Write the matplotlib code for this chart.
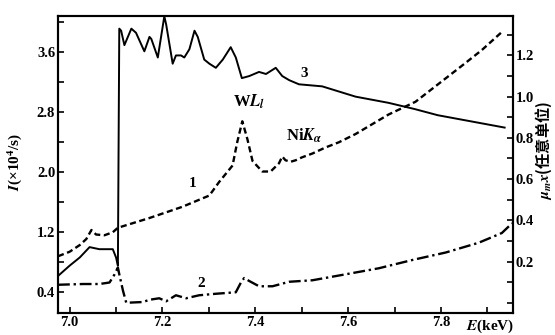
import matplotlib
matplotlib.use("Agg")
import matplotlib.pyplot as plt
from matplotlib.ticker import FixedLocator, MultipleLocator

plt.rcParams["font.family"] = ["Liberation Serif", "Noto Sans CJK SC"]
plt.rcParams["font.weight"] = "bold"
plt.rcParams["mathtext.fontset"] = "stix"

# curve 1 (dashed), I in 10^4/s
e1 = [6.975, 7.0, 7.022, 7.036, 7.047, 7.057, 7.075, 7.093, 7.104, 7.172, 7.243,
      7.301, 7.322, 7.351, 7.361, 7.372, 7.383, 7.394, 7.415, 7.433, 7.451, 7.458,
      7.465, 7.476, 7.487, 7.501, 7.523, 7.551, 7.580, 7.616, 7.687, 7.745, 7.795,
      7.845, 7.888, 7.931]
i1 = [0.87, 0.93, 1.02, 1.10, 1.22, 1.16, 1.15, 1.19, 1.25, 1.38, 1.53,
      1.68, 1.86, 2.08, 2.39, 2.67, 2.43, 2.14, 2.00, 2.00, 2.11, 2.20,
      2.15, 2.13, 2.15, 2.19, 2.24, 2.32, 2.39, 2.50, 2.76, 2.93, 3.17,
      3.41, 3.62, 3.86]

# curve 2 (dash-dot), I in 10^4/s
e2 = [6.975, 7.029, 7.064, 7.086, 7.097, 7.104, 7.107, 7.115, 7.122, 7.158, 7.172,
      7.193, 7.208, 7.229, 7.251, 7.279, 7.315, 7.358, 7.369, 7.376, 7.387, 7.408,
      7.437, 7.473, 7.523, 7.595, 7.666, 7.738, 7.810, 7.881, 7.931, 7.953]
i2 = [0.49, 0.50, 0.50, 0.52, 0.63, 0.72, 0.63, 0.41, 0.25, 0.26, 0.29,
      0.31, 0.27, 0.35, 0.31, 0.35, 0.37, 0.39, 0.52, 0.58, 0.54, 0.47,
      0.47, 0.53, 0.55, 0.63, 0.71, 0.82, 0.92, 1.05, 1.18, 1.31]

# curve 3 (solid), mu x in arbitrary units
e3 = [6.975, 7.0, 7.022, 7.043, 7.064, 7.093, 7.100, 7.104, 7.107, 7.111, 7.118,
      7.133, 7.143, 7.161, 7.172, 7.176, 7.190, 7.204, 7.208, 7.222, 7.229, 7.240,
      7.247, 7.258, 7.269, 7.276, 7.290, 7.301, 7.315, 7.330, 7.347, 7.358, 7.371,
      7.387, 7.408, 7.423, 7.444, 7.458, 7.473, 7.494, 7.544, 7.616, 7.687, 7.743,
      7.793, 7.865, 7.937]
mu3 = [0.13, 0.18, 0.22, 0.27, 0.26, 0.26, 0.22, 0.18, 1.33, 1.32, 1.25,
       1.33, 1.31, 1.22, 1.29, 1.28, 1.19, 1.39, 1.35, 1.16, 1.20, 1.20,
       1.19, 1.23, 1.32, 1.29, 1.18, 1.16, 1.14, 1.18, 1.24, 1.19, 1.09,
       1.10, 1.12, 1.11, 1.14, 1.10, 1.08, 1.06, 1.05, 1.00, 0.97, 0.94,
       0.91, 0.88, 0.85]

x_ticks = [7.0, 7.2, 7.4, 7.6, 7.8]
x_labels = ["7.0", "7.2", "7.4", "7.6", "7.8"]
left_ticks = [0.4, 1.2, 2.0, 2.8, 3.6]
left_labels = ["0.4", "1.2", "2.0", "2.8", "3.6"]
right_ticks = [0.2, 0.4, 0.6, 0.8, 1.0, 1.2]
right_labels = ["0.2", "0.4", "0.6", "0.8", "1.0", "1.2"]

fig = plt.figure(figsize=(5.55, 3.35), dpi=100)
ax = fig.add_axes([0.1045, 0.0642, 0.8198, 0.8866])
ax2 = ax.twinx()

ax.plot(e1, i1, color="black", lw=1.7, ls=(0, (2.6, 1.5)))
ax.plot(e2, i2, color="black", lw=1.7, ls=(0, (5, 1.6, 1, 1.6)))
ax2.plot(e3, mu3, color="black", lw=1.4)

ax.set_xlim(6.975, 7.955)
ax.set_ylim(0.107, 4.067)
ax2.set_ylim(-0.052, 1.389)

for s in ax.spines.values():
    s.set_linewidth(1.5)
for s in ax2.spines.values():
    s.set_linewidth(1.5)

ax.xaxis.set_major_locator(FixedLocator(x_ticks))
ax.set_xticklabels(x_labels)
ax.xaxis.set_minor_locator(MultipleLocator(0.1))
ax.yaxis.set_major_locator(FixedLocator(left_ticks))
ax.set_yticklabels(left_labels)
ax.yaxis.set_minor_locator(MultipleLocator(0.4))
ax2.yaxis.set_major_locator(FixedLocator(right_ticks))
ax2.set_yticklabels(right_labels)
ax2.yaxis.set_minor_locator(MultipleLocator(0.1))

ax.tick_params(which="both", direction="in", length=4, width=1.2,
               labelsize=10.5, pad=2, top=False, right=False)
ax2.tick_params(which="both", direction="in", length=4, width=1.2,
                labelsize=10.5, pad=2)

ax.annotate("$E$(keV)", xy=(7.906, 0), xycoords=("data", "axes fraction"),
            xytext=(0, -3), textcoords="offset points",
            ha="center", va="top", fontsize=11)

ax.text(7.264, 1.84, "1", fontsize=11, ha="center", va="center")
ax.text(7.283, 0.51, "2", fontsize=11, ha="center", va="center")
ax.text(7.505, 3.31, "3", fontsize=11, ha="center", va="center")
ax.text(7.387, 2.93, "W$L_l$", fontsize=12, ha="center", va="center")
ax.text(7.466, 2.47, "Ni$K_\\alpha$", fontsize=12, ha="left", va="center")

fig.text(15 / 555, 1 - 162 / 335, "$I$(×10$^4$/s)", rotation=90,
         ha="center", va="center", fontsize=11)
fig.text(544 / 555, 1 - 150 / 335, "$\\mu_m x$(任意单位)", rotation=90,
         ha="center", va="center", fontsize=11,
         family=["Noto Sans CJK SC", "DejaVu Sans"])

fig.savefig("out.png", dpi=100)
